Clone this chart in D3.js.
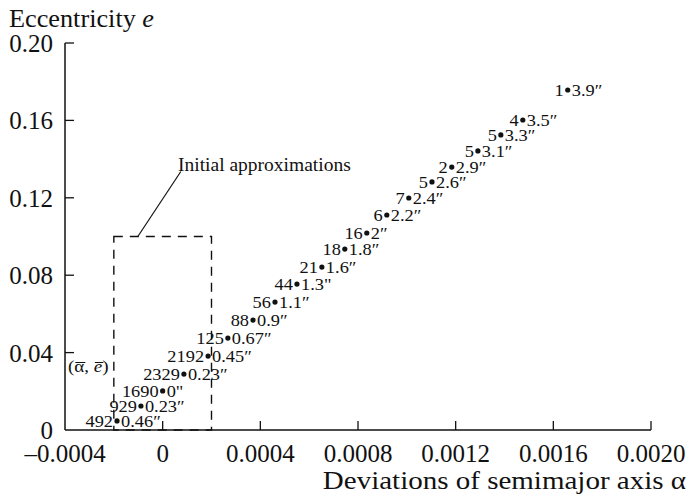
<!DOCTYPE html>
<html>
<head>
<meta charset="utf-8">
<script src="https://cdn.jsdelivr.net/npm/d3@7"></script>
<style>
  body { margin: 0; background: #fff; }
  svg { display: block; }
</style>
</head>
<body>
<div id="chart"></div>
<script>
// data
const counts = ["1", "4", "5", "5", "2", "5", "7", "6", "16", "18", "21", "44", "56", "88", "125", "2192", "2329", "1690", "929", "492"];
const offsets = ["3.9\u2033", "3.5\u2033", "3.3\u2033", "3.1\u2033", "2.9\u2033", "2.6\u2033", "2.4\u2033", "2.2\u2033", "2\u2033", "1.8\u2033", "1.6\u2033", "1.3\"", "1.1\u2033", "0.9\u2033", "0.67\u2033", "0.45\u2033", "0.23\u2033", "0\"", "0.23\u2033", "0.46\u2033"];
const alphaDev = [0.001659, 0.001475, 0.001385, 0.001291, 0.001184, 0.001103, 0.001008, 0.000918, 0.000836, 0.000746,
                  0.000652, 0.000550, 0.000460, 0.000370, 0.000267, 0.000186, 0.000087, 0.0, -0.000089, -0.000187];
const ecc = [0.1757, 0.1602, 0.1525, 0.1442, 0.1359, 0.1282, 0.1199, 0.1111, 0.1018, 0.0935,
             0.0842, 0.0754, 0.0661, 0.0568, 0.0475, 0.0382, 0.0289, 0.0202, 0.0124, 0.0047];
const xTicks = [-0.0004, 0, 0.0004, 0.0008, 0.0012, 0.0016, 0.0020];
const xTickLabels = ["\u20130.0004", "0", "0.0004", "0.0008", "0.0012", "0.0016", "0.0020"];
const yTicks = [0, 0.04, 0.08, 0.12, 0.16, 0.20];
const yTickLabels = ["0", "0.04", "0.08", "0.12", "0.16", "0.20"];
const initBox = [-0.0002, 0.0002, 0, 0.1]; // x0, x1, y0, y1

const W = 689, H = 497;
const svg = d3.select("#chart").append("svg").attr("width", W).attr("height", H)
  .attr("font-family", "Liberation Serif, Times New Roman, serif").attr("fill", "#111");

const x = d3.scaleLinear().domain([-0.0004, 0.0020]).range([65, 651]);
const y = d3.scaleLinear().domain([0, 0.20]).range([430, 43]);

// the scanned figure's type is a bit wider than Times
function stretch(sel, k) {
  sel.each(function () {
    const w = this.getComputedTextLength();
    d3.select(this).attr("textLength", w * k).attr("lengthAdjust", "spacingAndGlyphs");
  });
}

//axes
const axisG = svg.append("g");
axisG.append("line").attr("x1", x(-0.0004)).attr("x2", x(0.0020)).attr("y1", y(0)).attr("y2", y(0))
  .attr("stroke", "#111").attr("stroke-width", 1.5);
axisG.append("line").attr("x1", x(-0.0004)).attr("x2", x(-0.0004)).attr("y1", y(0)).attr("y2", y(0.20))
  .attr("stroke", "#111").attr("stroke-width", 1.5);

xTicks.forEach((t, i) => {
  if (i > 0) {
    axisG.append("line").attr("x1", x(t)).attr("x2", x(t)).attr("y1", y(0)).attr("y2", y(0) - 9)
      .attr("stroke", "#111").attr("stroke-width", 1.3);
  }
  axisG.append("text").attr("x", x(t)).attr("y", 462).attr("text-anchor", "middle")
    .attr("font-size", 25).text(xTickLabels[i]);
});

yTicks.forEach((t, i) => {
  if (i > 0) {
    axisG.append("line").attr("x1", x(-0.0004)).attr("x2", x(-0.0004) + 9).attr("y1", y(t)).attr("y2", y(t))
      .attr("stroke", "#111").attr("stroke-width", 1.3);
  }
  axisG.append("text").attr("x", 53).attr("y", y(t) + 9).attr("text-anchor", "end")
    .attr("font-size", 25).text(yTickLabels[i]);
});

// axis titles
const yt = svg.append("text").attr("x", 9).attr("y", 27).attr("font-size", 25);
yt.append("tspan").text("Eccentricity ");
yt.append("tspan").attr("font-style", "italic").text("e");
stretch(yt, 1.05);

const xt = svg.append("text").attr("x", 686).attr("y", 489).attr("text-anchor", "end")
  .attr("font-size", 25).text("Deviations of semimajor axis \u03b1");
stretch(xt, 1.16);

// dashed box of initial approximations
svg.append("rect")
  .attr("x", x(initBox[0])).attr("y", y(initBox[3]))
  .attr("width", x(initBox[1]) - x(initBox[0])).attr("height", y(initBox[2]) - y(initBox[3]))
  .attr("fill", "none").attr("stroke", "#111").attr("stroke-width", 1.4)
  .attr("stroke-dasharray", "9,7");

svg.append("line")
  .attr("x1", x(initBox[0]) + 24).attr("y1", y(initBox[3]))
  .attr("x2", x(initBox[0]) + 67).attr("y2", y(initBox[3]) - 65)
  .attr("stroke", "#111").attr("stroke-width", 1.2);
svg.append("text").attr("x", 178).attr("y", 171).attr("font-size", 19.5).text("Initial approximations");

// (alpha-bar, e-bar) with overlines drawn from the glyph boxes
const mean = svg.append("text").attr("x", 68).attr("y", 372).attr("font-size", 17);
mean.append("tspan").text("(");
mean.append("tspan").text("\u03b1");
mean.append("tspan").text(", ");
mean.append("tspan").attr("font-style", "italic").text("e");
mean.append("tspan").text(")");
stretch(mean, 1.12);
[1, 4].forEach(idx => {
  const ext = mean.node().getExtentOfChar(idx);
  svg.append("line").attr("x1", ext.x + 1).attr("x2", ext.x + ext.width + 1).attr("y1", 362.5).attr("y2", 362.5)
    .attr("stroke", "#111").attr("stroke-width", 1);
});

// points
const pts = alphaDev.map((a, i) => ({a: a, e: ecc[i], n: counts[i], d: offsets[i]}));
const g = svg.append("g");
g.selectAll("circle").data(pts).join("circle")
  .attr("cx", d => x(d.a)).attr("cy", d => y(d.e)).attr("r", 2.6).attr("fill", "#111");
const nLab = g.selectAll("text.n").data(pts).join("text").attr("class", "n")
  .attr("x", d => x(d.a) - 4).attr("y", d => y(d.e) + 6).attr("text-anchor", "end")
  .attr("font-size", 17).text(d => d.n);
stretch(nLab, 1.08);
const dLab = g.selectAll("text.d").data(pts).join("text").attr("class", "d")
  .attr("x", d => x(d.a) + 4).attr("y", d => y(d.e) + 6)
  .attr("font-size", 17).text(d => d.d);
stretch(dLab, 1.08);
</script>
</body>
</html>
